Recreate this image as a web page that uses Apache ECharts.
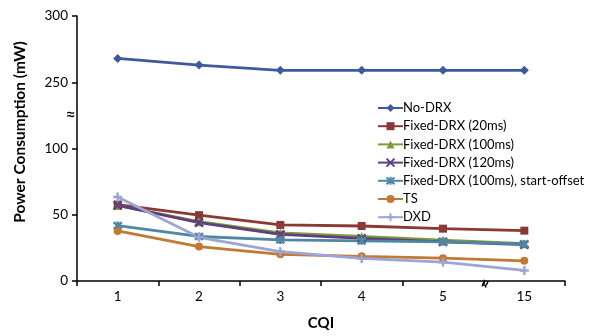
<!DOCTYPE html>
<html>
<head>
<meta charset="utf-8">
<script src="https://cdn.jsdelivr.net/npm/echarts@6/dist/echarts.min.js"></script>
<style>
html, body { margin: 0; padding: 0; background: #fff; }
#grafica { width: 589px; height: 336px; }
</style>
</head>
<body>
<div id="grafica"></div>
<script>
// datos
var cqi = ['1', '2', '3', '4', '5', '15'];
var noDrx = [268, 263, 259, 259, 259, 259];
var fixed20 = [57.7, 49.7, 42.3, 41.5, 39.5, 38];
var fixed100 = [57, 44.8, 36.3, 33.6, 30.8, 28.2];
var fixed120 = [57, 44, 35.2, 32.2, 29.6, 27.5];
var fixedOffset = [41.8, 33.6, 31, 30.3, 29.6, 28];
var ts = [37.8, 26, 20.1, 18.6, 17.2, 15.2];
var dxd = [63.4, 33, 22.1, 17, 14.2, 8];
var yTicks = ['0', '50', '100', '250', '300'];

// eje Y cortado: por encima de 200 se resta 100
function corte(v) {
    return v > 150 ? v - 100 : v;
}

var simbolos = {
    cruz: 'path://M0,0 L10,10 M10,0 L0,10',
    asterisco: 'path://M0,0 L10,10 M10,0 L0,10 M5,-1 L5,11',
    mas: 'path://M5,0 L5,10 M0,5 L10,5'
};

var lineas = [
    {name: 'No-DRX', data: noDrx, color: '#3F5A9B', symbol: 'diamond', size: 9},
    {name: 'Fixed-DRX (20ms)', data: fixed20, color: '#8C3835', symbol: 'rect', size: 8},
    {name: 'Fixed-DRX (100ms)', data: fixed100, color: '#7E9B3A', symbol: 'triangle', size: 9},
    {name: 'Fixed-DRX (120ms)', data: fixed120, color: '#5E3E80', symbol: 'x', size: 8},
    {name: 'Fixed-DRX (100ms), start-offset', data: fixedOffset, color: '#4D87A3', symbol: 'ast', size: 8},
    {name: 'TS', data: ts, color: '#C07A34', symbol: 'circle', size: 8},
    {name: 'DXD', data: dxd, color: '#9CA5D4', symbol: 'plus', size: 9}
];

var series = [];
lineas.forEach(function(l) {
    var sym = l.symbol;
    var estiloItem = {color: l.color};
    if (sym == 'x') { sym = simbolos.cruz; estiloItem = {color: 'none', borderColor: l.color, borderWidth: 2.5}; }
    if (sym == 'ast') { sym = simbolos.asterisco; estiloItem = {color: 'none', borderColor: l.color, borderWidth: 2.5}; }
    if (sym == 'plus') { sym = simbolos.mas; estiloItem = {color: 'none', borderColor: l.color, borderWidth: 2.5}; }
    series.push({
        name: l.name,
        type: 'line',
        data: l.data.map(corte),
        symbol: sym,
        symbolSize: l.size,
        showAllSymbol: true,
        lineStyle: {color: l.color, width: 2.8},
        itemStyle: estiloItem,
        animation: false
    });
});

var grafico = echarts.init(document.getElementById('grafica'));
var option = {
    animation: false,
    textStyle: {fontFamily: 'Lato'},
    grid: {left: 77, top: 16, width: 488, height: 268, containLabel: false},
    legend: {
        orient: 'vertical',
        left: 372,
        top: 96,
        itemWidth: 25,
        itemHeight: 10,
        itemGap: 4.2,
        textStyle: {fontSize: 13, lineHeight: 14, color: '#000', fontFamily: 'Lato', padding: [0, 0, 0, -5]},
        data: lineas.map(function(l) { return l.name; })
    },
    xAxis: {
        type: 'category',
        data: cqi,
        boundaryGap: true,
        name: 'CQI',
        nameLocation: 'middle',
        nameGap: 35,
        nameTextStyle: {fontSize: 15, fontWeight: 'bold', color: '#000', fontFamily: 'Lato'},
        axisLine: {lineStyle: {color: '#000', width: 1.5}},
        axisTick: {show: true, length: 5, inside: false, lineStyle: {color: '#000', width: 1.5}},
        axisLabel: {fontSize: 13.5, color: '#000', margin: 9, fontFamily: 'Lato'},
        splitLine: {show: false}
    },
    yAxis: {
        type: 'value',
        min: 0,
        max: 200,
        interval: 50,
        axisLine: {show: true, lineStyle: {color: '#000', width: 1.5}},
        axisTick: {show: true, length: 5, lineStyle: {color: '#000', width: 1.5}},
        axisLabel: {
            fontSize: 13.5, color: '#000', margin: 9, fontFamily: 'Lato',
            formatter: function(v) { return yTicks[v / 50]; }
        },
        splitLine: {show: false}
    },
    graphic: [
        {type: 'text', x: 20, y: 132, rotation: Math.PI / 2,
         style: {text: 'Power Consumption (mW)', fontSize: 15.5, fontWeight: 'bold', fill: '#000', fontFamily: 'Lato', align: 'center', verticalAlign: 'middle'}},
        {type: 'text', left: 67, top: 108, style: {text: '≈', fontSize: 14, fontWeight: 'bold', fill: '#000'}},
        {type: 'text', left: 478, top: 278, rotation: Math.PI / 2.5, style: {text: '≈', fontSize: 14, fontWeight: 'bold', fill: '#000'}}
    ],
    series: series
};

option && grafico.setOption(option, true);
</script>
</body>
</html>
